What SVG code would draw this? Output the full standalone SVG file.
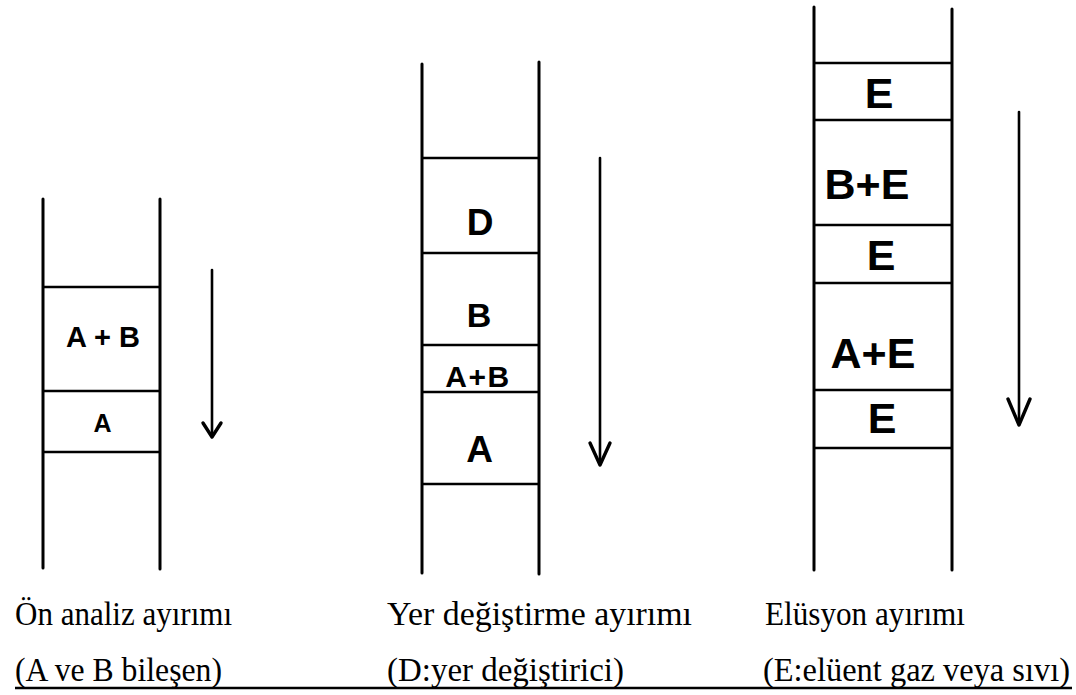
<svg xmlns="http://www.w3.org/2000/svg" width="1076" height="695" viewBox="0 0 1076 695">
  <style>
    .wall { stroke: #000; stroke-width: 3; stroke-linecap: round; fill: none; }
    .band { stroke: #000; stroke-width: 2.5; fill: none; }
    .flow { stroke: #000; stroke-width: 2.6; stroke-linecap: round; stroke-linejoin: round; fill: none; }
    .head { stroke: #000; stroke-width: 3.4; stroke-linecap: round; stroke-linejoin: round; fill: none; }
    .lbl { font-family: "Liberation Sans", Arial, sans-serif; font-weight: bold; fill: #000; text-anchor: middle; }
    .cap { font-family: "Liberation Serif", "Times New Roman", serif; font-size: 31px; fill: #000; }
  </style>

  <rect width="1076" height="695" fill="#fff"/>

  <!-- Column 1: frontal analysis -->
  <g id="column-frontal">
    <line class="wall" x1="43" y1="199" x2="43" y2="568"/>
    <line class="wall" x1="160" y1="199" x2="160" y2="569"/>
    <line class="band" x1="43" y1="287" x2="160" y2="287"/>
    <line class="band" x1="43" y1="391" x2="160" y2="391"/>
    <line class="band" x1="43" y1="452" x2="160" y2="452"/>
    <text class="lbl" x="103" y="347" font-size="29">A + B</text>
    <text class="lbl" x="102.5" y="432" font-size="25">A</text>
  </g>

  <!-- Column 2: displacement -->
  <g id="column-displacement">
    <line class="wall" x1="422" y1="64" x2="422" y2="573"/>
    <line class="wall" x1="539" y1="62" x2="539" y2="574"/>
    <line class="band" x1="422" y1="158" x2="539" y2="158"/>
    <line class="band" x1="422" y1="253" x2="539" y2="253"/>
    <line class="band" x1="422" y1="345" x2="539" y2="345"/>
    <line class="band" x1="422" y1="392" x2="539" y2="392"/>
    <line class="band" x1="422" y1="484" x2="539" y2="484"/>
    <text class="lbl" x="480" y="235" font-size="37">D</text>
    <text class="lbl" x="479" y="327" font-size="34">B</text>
    <text class="lbl" x="478" y="387" font-size="30" letter-spacing="1.5">A+B</text>
    <text class="lbl" x="479.5" y="462" font-size="37">A</text>
  </g>

  <!-- Column 3: elution -->
  <g id="column-elution">
    <line class="wall" x1="814" y1="7" x2="814" y2="570"/>
    <line class="wall" x1="952" y1="9" x2="952" y2="570"/>
    <line class="band" x1="814" y1="63" x2="952" y2="63"/>
    <line class="band" x1="814" y1="120" x2="952" y2="120"/>
    <line class="band" x1="814" y1="225" x2="952" y2="225"/>
    <line class="band" x1="814" y1="283" x2="952" y2="283"/>
    <line class="band" x1="814" y1="390" x2="952" y2="390"/>
    <line class="band" x1="814" y1="448" x2="952" y2="448"/>
    <text class="lbl" x="879" y="108" font-size="43">E</text>
    <text class="lbl" x="867" y="199" font-size="43">B+E</text>
    <text class="lbl" x="881" y="270" font-size="43">E</text>
    <text class="lbl" x="873" y="368" font-size="43">A+E</text>
    <text class="lbl" x="882" y="433" font-size="43">E</text>
  </g>

  <!-- Flow direction arrows -->
  <g id="flow-arrows">
    <line class="flow" x1="212" y1="270" x2="212" y2="436"/>
    <polyline class="head" points="203,423 212,437 221,423"/>
    <line class="flow" x1="600" y1="158" x2="600" y2="464"/>
    <polyline class="head" points="590,443 600,465 610,443"/>
    <line class="flow" x1="1019" y1="112" x2="1019" y2="424"/>
    <polyline class="head" points="1008,399 1019,425 1030,399"/>
  </g>

  <!-- Captions (Times, slightly tall) -->
  <g id="captions">
    <text class="cap" transform="translate(15,625) scale(1,1.12)" textLength="217" lengthAdjust="spacingAndGlyphs">Ön analiz ayırımı</text>
    <text class="cap" transform="translate(387,625) scale(1,1.12)" textLength="305" lengthAdjust="spacingAndGlyphs">Yer değiştirme ayırımı</text>
    <text class="cap" transform="translate(765,625) scale(1,1.12)" textLength="200" lengthAdjust="spacingAndGlyphs">Elüsyon ayırımı</text>
    <text class="cap" transform="translate(15,681) scale(1,1.12)" textLength="207" lengthAdjust="spacingAndGlyphs">(A ve B bileşen)</text>
    <text class="cap" transform="translate(387,681) scale(1,1.12)" textLength="237" lengthAdjust="spacingAndGlyphs">(D:yer değiştirici)</text>
    <text class="cap" transform="translate(763,681) scale(1,1.12)" textLength="307" lengthAdjust="spacingAndGlyphs">(E:elüent gaz veya sıvı)</text>
    <line x1="15" y1="688" x2="1072" y2="688" stroke="#000" stroke-width="2.5"/>
  </g>
</svg>
